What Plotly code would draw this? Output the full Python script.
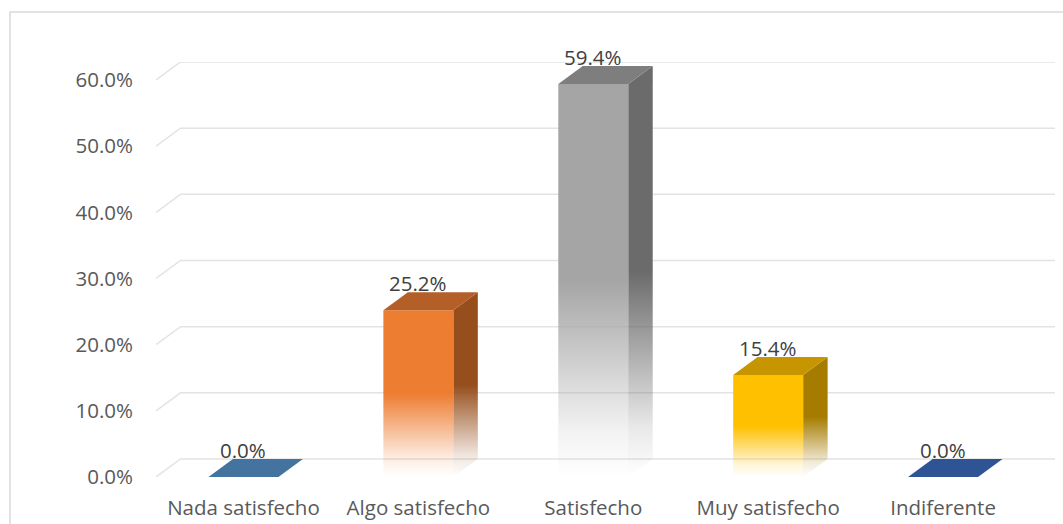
import plotly.graph_objects as go

# ---- data ----
categories = ["Nada satisfecho", "Algo satisfecho", "Satisfecho", "Muy satisfecho", "Indiferente"]
values = [0.0, 25.2, 59.4, 15.4, 0.0]
y_ticks = [0, 10, 20, 30, 40, 50, 60]

# ---- styles ----
front_colors = ["#45739F", "#ED7D31", "#A5A5A5", "#FFC000", "#2F5496"]
top_colors = ["#45739F", "#B45F28", "#7E7E7E", "#C79500", "#2F5496"]
side_colors = ["#3A6187", "#964E1C", "#6B6B6B", "#A67C00", "#284880"]

W, H = 1063, 524
ML, MR, MT, MB = 156, 8, 62, 47
DX, DY = 0.14, 2.72          # depth offset (data units)
HALF = 0.2                   # half bar width (category units)
X0, X1 = -0.5, len(categories) - 0.5 + DX
Y0, Y1 = 0, max(y_ticks) + DY
FONT = "Open Sans"
FS = 20.5


def rgba(hexc, a):
    h = hexc.lstrip("#")
    r, g, b = int(h[0:2], 16), int(h[2:4], 16), int(h[4:6], 16)
    return f"rgba({r},{g},{b},{a})"


def fade_scale(hexc):
    return [[0, rgba(hexc, 0.0)], [0.12, rgba(hexc, 0.15)], [0.5, rgba(hexc, 1.0)], [1, rgba(hexc, 1.0)]]


fig = go.Figure()

# gridlines (floor-perspective style)
gx, gy = [], []
for t in y_ticks:
    gx += [X0, X0 + DX, X1, None]
    gy += [t, t + DY, t + DY, None]
fig.add_trace(go.Scatter(x=gx, y=gy, mode="lines", line=dict(color="#E3E3E3", width=1.5),
                         hoverinfo="skip", showlegend=False))

for i, (cat, v) in enumerate(zip(categories, values)):
    xl, xr = i - HALF, i + HALF
    if v > 0:
        # side face
        fig.add_trace(go.Scatter(
            x=[xr, xr + DX, xr + DX, xr, xr], y=[0, DY, v + DY, v, 0],
            mode="lines", fill="toself", line=dict(width=0),
            fillgradient=dict(type="vertical", colorscale=fade_scale(side_colors[i]), start=0, stop=v + DY),
            hoverinfo="skip", showlegend=False))
        # front face
        fig.add_trace(go.Scatter(
            x=[xl, xr, xr, xl, xl], y=[0, 0, v, v, 0],
            mode="lines", fill="toself", line=dict(width=0),
            fillgradient=dict(type="vertical", colorscale=fade_scale(front_colors[i]), start=0, stop=v),
            hoverinfo="skip", showlegend=False))
    # top face
    fig.add_trace(go.Scatter(
        x=[xl, xr, xr + DX, xl + DX, xl], y=[v, v, v + DY, v + DY, v],
        mode="lines", fill="toself", line=dict(width=0), fillcolor=top_colors[i],
        hoverinfo="skip", showlegend=False))
    fig.add_annotation(x=i, y=v + DY, text=f"{v:.1f}%", showarrow=False,
                       yanchor="middle", xanchor="center", yshift=9,
                       font=dict(family=FONT, size=FS, color="#404040"))

pw = W - ML - MR
ph = H - MT - MB


def px_to_paper_x(px):
    return (px - ML) / pw


def px_to_paper_y(py):
    return (H - MB - py) / ph


fig.add_shape(type="rect", xref="paper", yref="paper",
              x0=px_to_paper_x(10), x1=px_to_paper_x(W + 20),
              y0=px_to_paper_y(H + 20), y1=px_to_paper_y(12),
              line=dict(color="#D9D9D9", width=1.5), fillcolor="rgba(0,0,0,0)", layer="below")

fig.update_layout(
    width=W, height=H, autosize=False,
    margin=dict(l=ML, r=MR, t=MT, b=MB),
    paper_bgcolor="white", plot_bgcolor="white",
    showlegend=False,
    font=dict(family=FONT, size=FS, color="#595959"),
    xaxis=dict(range=[X0, X1], tickvals=list(range(len(categories))), ticktext=categories,
               showgrid=False, zeroline=False, showline=False, ticks="", automargin=False,
               ticklabelstandoff=16, fixedrange=True,
               tickfont=dict(family=FONT, size=FS, color="#595959")),
    yaxis=dict(range=[Y0, Y1], tickvals=y_ticks, ticktext=[f"{t:.1f}%" for t in y_ticks],
               showgrid=False, zeroline=False, showline=False, ticks="", automargin=False,
               ticklabelstandoff=22, fixedrange=True,
               tickfont=dict(family=FONT, size=FS, color="#595959")),
)

fig.write_html("out.html", config={"displayModeBar": False},
               post_script="document.body.style.margin='0px';document.body.style.overflow='hidden';")
